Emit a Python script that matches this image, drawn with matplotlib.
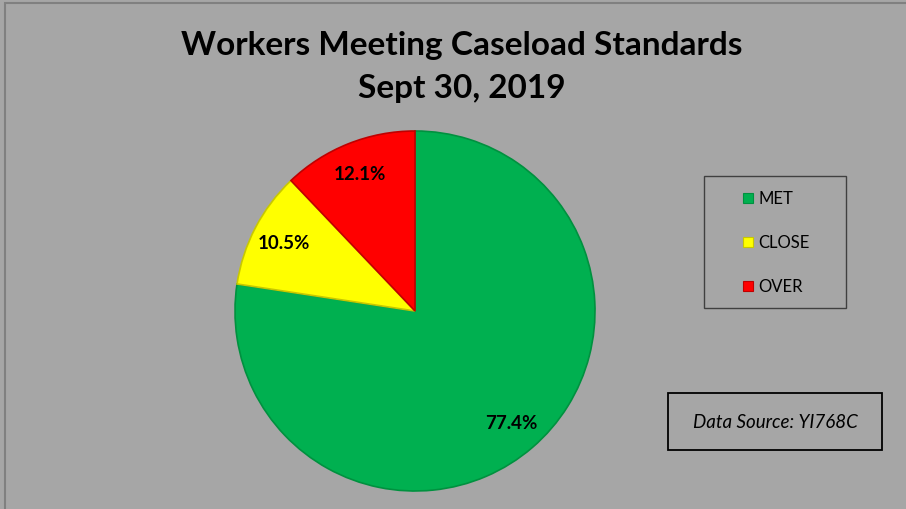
import matplotlib
matplotlib.use("Agg")
import matplotlib.pyplot as plt
from matplotlib.patches import Rectangle
from matplotlib.lines import Line2D

categories = ["MET", "CLOSE", "OVER"]
values = [77.4, 10.5, 12.1]
colors = ["#00b050", "#ffff00", "#ff0000"]
edges = ["#00913f", "#c8c800", "#c00000"]
title = "Workers Meeting Caseload Standards\nSept 30, 2019"
source = "Data Source: YI768C"

W, H = 906, 510
fig = plt.figure(figsize=(W/100, H/100), dpi=100)
fig.patch.set_facecolor("#a6a6a6")

# outer border
fig.add_artist(Rectangle((5/W, -0.01), 1.0, (H-4)/H + 0.01, transform=fig.transFigure,
                         fill=False, edgecolor="#808080", linewidth=1.5))

fig.text(462/W, 1 - 67/H, title, ha="center", va="center", fontsize=24,
         fontweight="bold", family="Lato", linespacing=1.62, color="black")

ax = fig.add_axes([235/W, 1 - 492/H, 360/W, 360/H])
ax.set_facecolor("none")
wedges, texts, autotexts = ax.pie(values, colors=colors, startangle=90, counterclock=False,
                                  autopct="%.1f%%", pctdistance=0.82, radius=1,
                                  wedgeprops=dict(linewidth=1.2))
for w, e in zip(wedges, edges):
    w.set_edgecolor(e)
for t in autotexts:
    t.set_fontsize(13.5)
    t.set_fontweight("bold")
    t.set_family("Lato")
ax.set_xlim(-1.0, 1.0)
ax.set_ylim(-1.0, 1.0)
ax.set_aspect("equal")
ax.axis("off")

# legend box (drawn manually for exact placement)
fig.add_artist(Rectangle((704/W, 1 - 309/H), 142/W, 132/H, transform=fig.transFigure,
                         fill=False, edgecolor="#404040", linewidth=1.0))
for i, (cat, c, e) in enumerate(zip(categories, colors, edges)):
    y = 1 - (199 + 44*i)/H
    fig.add_artist(Line2D([748/W], [y], marker="s", linestyle="none", markersize=7.5,
                          markerfacecolor=c, markeredgecolor=e, markeredgewidth=0.8,
                          transform=fig.transFigure))
    fig.text(758/W, y, cat, ha="left", va="center", fontsize=12, family="Lato",
             color="black")

# source box
fig.add_artist(Rectangle((668/W, 1 - 451/H), 214/W, 57/H, transform=fig.transFigure,
                         fill=False, edgecolor="black", linewidth=1.3))
fig.text(775/W, 1 - 423/H, source, ha="center", va="center", fontsize=13.5,
         style="italic", family="Lato", color="black")

fig.savefig("out.png", dpi=100, facecolor=fig.get_facecolor())
